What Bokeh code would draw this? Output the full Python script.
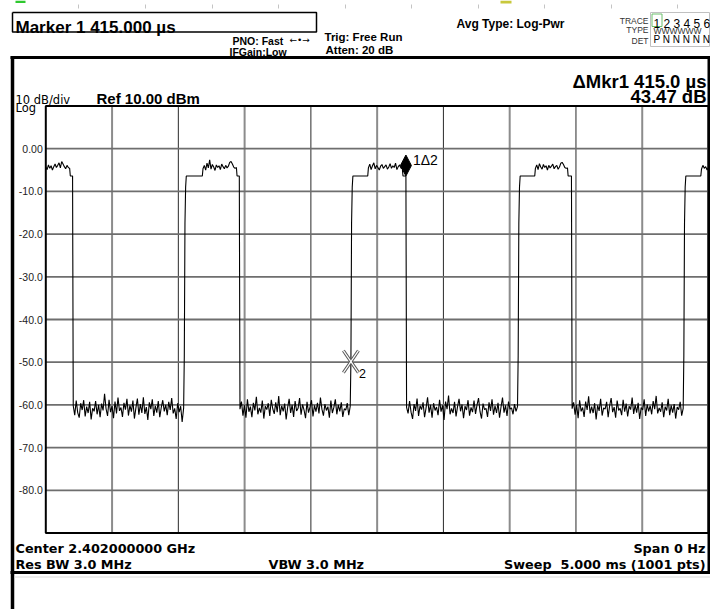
import numpy as np
from bokeh.plotting import figure
from bokeh.models import Range1d, Label
from bokeh.embed import file_html
from bokeh.resources import INLINE
from bokeh.core.properties import value

# ---------------- instrument settings / readouts ----------------
SWEEP_MS = 5.0            # zero-span sweep time
REF_DBM = 10.0            # reference level (top graticule line)
DB_PER_DIV = 10.0
N_DIV = 10
SAMPLE_MS = 0.005         # 1001 points over 5 ms

y_ticks = [0, -10, -20, -30, -40, -50, -60, -70, -80]
y_tick_labels = ["0.00", "-10.0", "-20.0", "-30.0", "-40.0", "-50.0", "-60.0", "-70.0", "-80.0"]
x_divs = [0.5, 1.0, 1.5, 2.0, 2.5, 3.0, 3.5, 4.0, 4.5]

# delta marker readout
mkr1_t = 2.717            # ms, falling edge of the third burst
mkr1_db = -6.4
delta_us = 415.0
delta_db = 43.47
mkr2_t = mkr1_t - delta_us / 1000.0
mkr2_db = mkr1_db - delta_db

# burst timing (ms)
pulse_rise = [1.045, mkr2_t, 3.564, 4.814]          # bursts 2..5
pulse_fall = [0.202, 1.460, mkr1_t, 3.966]          # bursts 1..4
top_start = [0.000, 1.186, 2.434, 3.694, 4.947]
top_end = [0.180, 1.438, 2.690, 3.936, 5.000]
step_db = -6.4                                       # shoulder level at burst edges
rise_edge = [-48.5, -17.5, -9.0]                     # samples on the rising edge

# burst tops (dBm)
top1 = [-4.3, -4.9, -3.8, -4.6, -4.0, -5.0, -4.2, -3.6, -4.4, -3.9, -3.3, -4.5, -3.0, -3.6, -4.2,
        -4.7, -3.9, -4.4, -4.6]
top2 = [-4.7, -3.9, -5.0, -3.4, -4.5, -2.6, -4.8, -3.7, -4.3, -5.1, -3.8, -4.4, -4.0, -4.9, -3.6,
        -4.2, -4.7, -3.9, -4.5, -4.1, -3.2, -3.0, -3.6, -4.3, -4.6, -4.4]
top3 = [-4.5, -3.6, -4.9, -4.0, -3.3, -4.7, -3.9, -4.4, -5.0, -4.1, -3.7, -4.6, -4.2, -3.8, -4.8,
        -4.3, -3.5, -4.6, -4.0, -4.4, -3.4, -4.9, -4.2, -3.8, -4.5, -4.7]
top4 = [-4.6, -3.8, -4.9, -3.5, -4.3, -4.8, -3.7, -4.4, -4.0, -5.0, -3.9, -4.5, -4.1, -3.6, -4.7,
        -4.2, -3.9, -4.8, -4.3, -3.4, -3.2, -3.7, -4.4, -4.6, -4.5]
top5 = [-4.8, -3.9, -4.6, -4.2, -5.0, -4.4]

# noise floor between bursts (dBm)
gap1 = [-60.2, -62.4, -59.0, -61.8, -63.0, -59.6, -61.2, -58.9, -62.7, -60.4, -61.9, -59.3, -63.4, -60.8,
        -61.5, -59.1, -62.2, -60.0, -62.9, -59.7, -61.3, -57.4, -60.9, -62.6, -58.8, -61.7, -60.3, -63.1,
        -59.2, -62.0, -58.3, -61.4, -60.6, -62.8, -59.5, -61.1, -58.6, -62.5, -60.1, -61.6, -59.0, -63.2,
        -60.7, -58.5, -62.3, -59.8, -61.9, -58.2, -62.1, -60.5, -63.5, -59.4, -61.0, -58.7, -62.6, -60.2,
        -61.8, -59.1, -62.9, -60.6, -58.9, -61.5, -60.0, -62.4, -59.3, -61.2, -58.4, -62.0, -60.8, -63.3,
        -59.6, -61.7, -60.3, -64.0, -60.7]
gap2 = [-61.0, -59.2, -62.5, -60.1, -63.0, -58.7, -61.6, -60.4, -62.9, -59.5, -61.3, -58.1, -62.2, -60.7,
        -61.8, -59.0, -63.2, -60.3, -61.1, -59.6, -62.6, -58.8, -60.9, -62.1, -59.4, -61.7, -57.9, -62.4,
        -60.2, -61.5, -59.7, -63.4, -60.6, -58.6, -61.9, -60.0, -62.8, -59.1, -61.4, -60.8, -58.4, -62.3,
        -59.9, -61.2, -63.1, -59.3, -61.8, -60.5, -58.9, -62.7, -60.1, -61.6, -59.5, -62.0, -58.3, -61.0,
        -62.5, -59.8, -61.3, -60.4, -63.0, -59.0, -61.9, -60.6, -58.7, -62.2, -60.0, -61.5, -59.4, -62.8,
        -60.9, -61.2, -59.6, -62.4, -60.3]
gap3 = [-60.6, -62.0, -59.1, -61.7, -63.3, -59.8, -61.4, -58.5, -62.6, -60.2, -61.1, -59.4, -62.9, -60.7,
        -58.2, -61.8, -60.0, -63.0, -59.6, -61.3, -60.5, -62.4, -58.8, -61.6, -60.1, -63.5, -59.2, -61.0,
        -57.8, -62.2, -60.8, -61.9, -59.3, -62.7, -60.4, -58.6, -61.5, -59.9, -63.1, -60.3, -61.2, -58.9,
        -62.5, -60.6, -61.7, -59.0, -62.1, -60.0, -58.4, -61.6, -63.2, -59.7, -61.1, -60.8, -62.8, -59.4,
        -61.4, -58.7, -62.3, -60.2, -61.9, -59.5, -63.0, -60.5, -58.3, -61.8, -60.1, -62.6, -59.2, -61.0,
        -60.7, -62.2, -59.8, -61.5, -60.4]
gap4 = [-60.9, -59.4, -62.3, -60.0, -63.1, -58.9, -61.5, -60.6, -62.8, -59.2, -61.2, -58.0, -62.0, -60.4,
        -61.9, -59.6, -63.4, -60.1, -61.4, -58.6, -62.5, -60.7, -61.0, -59.3, -62.9, -60.2, -58.4, -61.7,
        -60.5, -63.0, -59.0, -61.3, -60.8, -62.4, -58.8, -61.6, -59.7, -62.7, -60.3, -61.1, -58.3, -62.1,
        -60.0, -61.8, -59.5, -63.3, -60.6, -61.2, -58.7, -62.6, -59.9, -61.5, -60.2, -62.2, -59.1, -61.0,
        -57.9, -62.0, -60.7, -61.6, -59.4, -62.9, -60.4, -61.3, -58.6, -62.4, -60.1, -61.8, -59.8, -63.2,
        -60.5, -61.1, -59.3, -62.5, -60.8]

top_noise = [top1, top2, top3, top4, top5]
floor_noise = [gap1, gap2, gap3, gap4]

# ---------------- assemble the trace ----------------
trace_t, trace_db = [], []


def add(t, d):
    trace_t.append(t)
    trace_db.append(d)


def add_run(t0, t1, vals):
    for t, v in zip(np.linspace(t0, t1, len(vals)), vals):
        add(float(t), v)


for k in range(5):
    if k > 0:
        tr = pulse_rise[k - 1]
        edge = list(rise_edge)
        if k == 2:
            edge[0] = mkr2_db
        for i, v in enumerate(edge):
            add(tr + i * SAMPLE_MS, v)
        add(tr + len(edge) * SAMPLE_MS, step_db)
        add(top_start[k] - SAMPLE_MS, step_db)
    add_run(top_start[k], top_end[k], top_noise[k])
    if k < 4:
        tf = pulse_fall[k]
        add(top_end[k] + SAMPLE_MS, step_db)
        add(tf, step_db)
        add_run(tf + SAMPLE_MS, pulse_rise[k] - SAMPLE_MS, floor_noise[k])

# ---------------- canvas ----------------
W, H = 710, 609
GL, GR, GT, GB = 45.3, 708.0, 105.5, 532.5     # graticule box on the screen
db_top = REF_DBM
db_bot = REF_DBM - DB_PER_DIV * N_DIV
sx = SWEEP_MS / (GR - GL)
sy = (db_top - db_bot) / (GB - GT)


def X(px):
    return (px - GL) * sx


def Y(py):
    return db_top - (py - GT) * sy


p = figure(width=W, height=H, x_range=Range1d(X(0), X(W)), y_range=Range1d(Y(H), Y(0)),
           output_backend="svg", toolbar_location=None, x_axis_type=None, y_axis_type=None,
           min_border=0, outline_line_color=None, background_fill_color="white",
           border_fill_color="white")
p.grid.visible = False

SANS = "Liberation Sans"
WIDE = "DejaVu Sans"


def label(x, y, text, size, bold=False, font=SANS, align="left", color="black"):
    p.add_layout(Label(x=X(x), y=Y(y), text=text, text_font=font, text_font_size=f"{size}px",
                       text_font_style="bold" if bold else "normal", text_align=align,
                       text_baseline="alphabetic", text_color=color))


def hline(y, x0, x1, color="black", w=1.0):
    p.line([X(x0), X(x1)], [Y(y), Y(y)], line_color=color, line_width=w)


def vline(x, y0, y1, color="black", w=1.0):
    p.line([X(x), X(x)], [Y(y0), Y(y1)], line_color=color, line_width=w)


def box(x0, y0, x1, y1, color="black", w=1.0):
    p.line([X(x0), X(x1), X(x1), X(x0), X(x0)], [Y(y0), Y(y0), Y(y1), Y(y1), Y(y0)],
           line_color=color, line_width=w)


# top status strip
for tx in [78, 145, 212, 278, 345, 411, 478, 544, 611, 677]:
    vline(tx, 4, 8, color="#c4c4c4")
p.quad(left=X(15), right=X(25), top=Y(0), bottom=Y(2.5), fill_color="#2fc82f", line_color=None)
p.quad(left=X(500), right=X(511), top=Y(0), bottom=Y(3), fill_color="#c8c83c", line_color=None)

# header
box(12, 12, 316, 31.5, w=1.5)
label(15, 27, "Marker 1 415.000 µs", 17, bold=True)
label(232, 40, "PNO: Fast", 10.5, bold=True)
label(289, 39, "←•→", 9, font=WIDE)
label(229, 51, "IFGain:Low", 10.5, bold=True)
label(324, 36, "Trig: Free Run", 11.5, bold=True)
label(325, 49, "Atten: 20 dB", 11.5, bold=True)
label(456, 23, "Avg Type: Log-Pwr", 12, bold=True)

box(650, 12, 709, 46, color="#c0c0c0")
box(651.5, 13.5, 661.5, 26, color="#6cbf6c")
label(648, 20, "TRACE", 8.5, align="right", color="#333333")
label(648, 29.5, "TYPE", 8.5, align="right", color="#333333")
label(648, 40, "DET", 8.5, align="right", color="#333333")
label(653, 23, "1 2 3 4 5 6", 12)
label(653, 30, "WWWWWW", 8.5, color="#333333")
label(653, 39, "P N N N N N", 10)

# screen frame
hline(57, 10, 710, w=3)
vline(12, 56, 609, w=3.5)
vline(708.5, 56, 573, w=3)
hline(572, 10, 710, w=3)
hline(576.5, 14, 710, color="#dcdcdc")

# annotation above the graticule
label(15, 99, "10 dB/div", 11.5, font=WIDE)
label(15, 107.5, "Log", 11.5, font=WIDE)
label(96, 98, "Ref 10.00 dBm", 15, bold=True)
label(706, 81, "ΔMkr1 415.0 µs", 18.5, bold=True, align="right")
label(706, 96, "43.47 dB", 18.5, bold=True, align="right")

# graticule
div_colors = ["#8c8c8c" if i % 2 == 0 else "#2a2a2a" for i in range(len(x_divs))]
div_widths = [2.0 if i % 2 == 0 else 1.0 for i in range(len(x_divs))]
p.segment(x0=x_divs, y0=db_bot, x1=x_divs, y1=db_top, line_color=div_colors, line_width=div_widths)
p.segment(x0=0, y0=y_ticks, x1=SWEEP_MS, y1=y_ticks, line_color="#6e6e6e", line_width=1.8)
p.quad(left=0, right=SWEEP_MS, bottom=db_bot, top=db_top, fill_color=None,
       line_color="black", line_width=2)
p.text(x=[0] * len(y_ticks), y=y_ticks, text=y_tick_labels, x_offset=-3, text_align="right",
       text_baseline="middle", text_font=value(SANS), text_font_size="10.5px", text_color="#222222")

# measured trace
p.line(trace_t, trace_db, line_color="black", line_width=1.1)

# marker 1: filled diamond whose lower tip sits on the trace point
p.patch([mkr1_t, mkr1_t + 5.5 * sx, mkr1_t, mkr1_t - 5.5 * sx],
        [mkr1_db, mkr1_db + 10.5 * sy, mkr1_db + 21 * sy, mkr1_db + 10.5 * sy],
        fill_color="black", line_color="black", line_width=1)
p.add_layout(Label(x=mkr1_t + 7 * sx, y=mkr1_db + 16 * sy, text="1Δ2", text_font=SANS,
                   text_font_size="14px", text_baseline="alphabetic", text_color="black"))

# marker 2: hollow cross centred on the trace point
cx0 = [mkr2_t - 7.5 * sx, mkr2_t - 7.5 * sx]
cx1 = [mkr2_t + 7.5 * sx, mkr2_t + 7.5 * sx]
cy0 = [mkr2_db + 11 * sy, mkr2_db - 11 * sy]
cy1 = [mkr2_db - 11 * sy, mkr2_db + 11 * sy]
p.segment(x0=cx0, y0=cy0, x1=cx1, y1=cy1, line_color="#555555", line_width=3.2)
p.segment(x0=cx0, y0=cy0, x1=cx1, y1=cy1, line_color="white", line_width=1.2)
p.add_layout(Label(x=mkr2_t + 8 * sx, y=mkr2_db - 11.5 * sy, text="2", text_font=SANS,
                   text_font_size="12.5px", text_baseline="alphabetic", text_color="black"))

# footer
label(15, 548, "Center 2.402000000 GHz", 12.8, bold=True, font=WIDE)
label(15, 564, "Res BW 3.0 MHz", 12.8, bold=True, font=WIDE)
label(268, 564, "VBW 3.0 MHz", 12.8, bold=True, font=WIDE)
label(705, 548, "Span 0 Hz", 12.8, bold=True, font=WIDE, align="right")
label(705, 564, "Sweep\u00a0\u00a05.000 ms (1001 pts)", 12.8, bold=True, font=WIDE, align="right")

open("out.html", "w").write(file_html(p, INLINE))
